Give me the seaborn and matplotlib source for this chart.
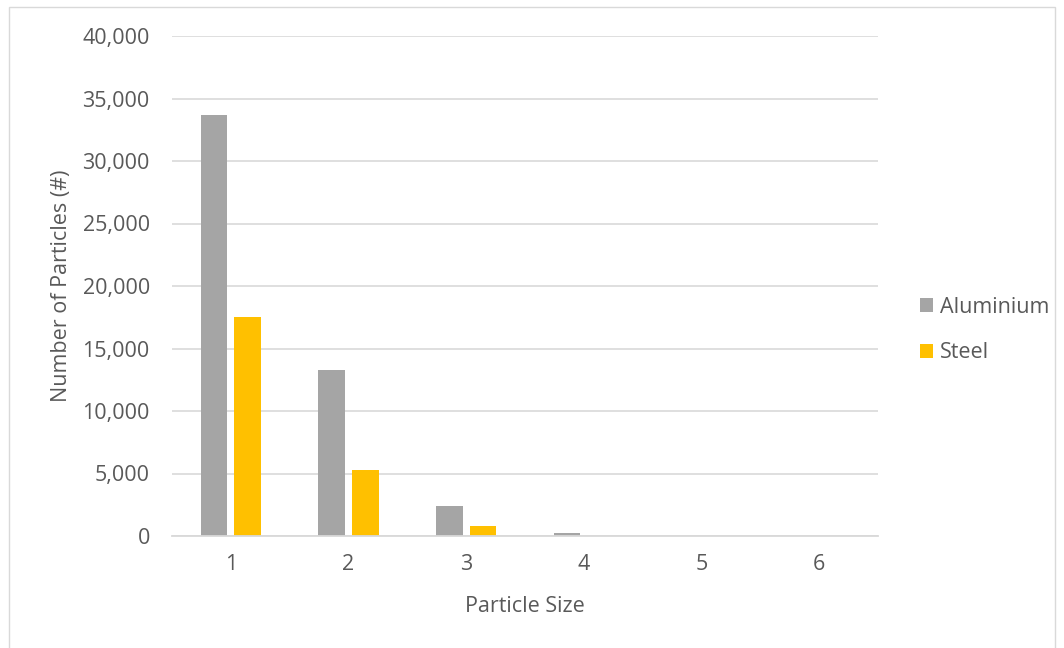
import matplotlib
matplotlib.use("Agg")
import matplotlib.pyplot as plt
from matplotlib.patches import Patch, Rectangle
from matplotlib.ticker import FuncFormatter, MultipleLocator
import pandas as pd
import seaborn as sns

# Particle counts per size class
sizes = ["1", "2", "3", "4", "5", "6"]
aluminium = [33700, 13300, 2400, 250, 0, 0]
steel = [17500, 5300, 800, 0, 0, 0]
materials = ["Aluminium", "Steel"]
colors = ["#A5A5A5", "#FFC000"]

df = pd.DataFrame({
    "size": sizes * 2,
    "count": aluminium + steel,
    "material": [materials[0]] * len(sizes) + [materials[1]] * len(sizes),
})

sns.set_theme(style="white")
plt.rcParams["font.family"] = ["Open Sans", "DejaVu Sans"]
text_color = "#595959"
grid_color = "#D9D9D9"

fig = plt.figure(figsize=(10.64, 6.48), dpi=100)
ax = fig.add_axes([172 / 1064, 1 - 536 / 648, 706 / 1064, 500 / 648])

sns.barplot(
    data=df, x="size", y="count", hue="material", order=sizes,
    hue_order=materials, palette=colors, width=0.57, gap=0.2,
    saturation=1, edgecolor="none", legend=False, ax=ax,
)

ax.set_xlim(-0.5, len(sizes) - 0.5)
ax.set_ylim(0, 40000)
ax.yaxis.set_major_locator(MultipleLocator(5000))
ax.yaxis.set_major_formatter(FuncFormatter(lambda v, p: f"{int(v):,}"))
ax.grid(axis="y", color=grid_color, linewidth=1.2)
ax.set_axisbelow(True)
for side in ("left", "right", "top"):
    ax.spines[side].set_visible(False)
ax.spines["bottom"].set_color(grid_color)
ax.spines["bottom"].set_linewidth(1.3)

ax.tick_params(axis="y", length=0, pad=16, labelsize=15.5, labelcolor=text_color)
ax.tick_params(axis="x", length=0, pad=13, labelsize=15.5, labelcolor=text_color)

ax.set_xlabel("Particle Size", fontsize=15.5, color=text_color, va="center")
ax.xaxis.set_label_coords(0.5, -0.14)
ax.set_ylabel("Number of Particles (#)", fontsize=15.5, color=text_color, va="center")
ax.yaxis.set_label_coords(-0.157, 0.5)

handles = [Patch(facecolor=c, edgecolor="none") for c in colors]
fig.legend(
    handles, materials, loc="center left",
    bbox_to_anchor=(920 / 1064, 1 - 330 / 648), bbox_transform=fig.transFigure,
    frameon=False, fontsize=15.5, labelcolor=text_color,
    handlelength=0.6, handleheight=0.6, handletextpad=0.32,
    labelspacing=1.14, borderpad=0, borderaxespad=0,
)

# light frame around the whole chart
fig.patches.append(Rectangle(
    (9 / 1064, -0.01), (1055 - 9) / 1064, 1 - 7 / 648 + 0.01,
    transform=fig.transFigure, fill=False, edgecolor=grid_color, linewidth=1.0,
))

fig.savefig("out.png", dpi=100, facecolor="white")
